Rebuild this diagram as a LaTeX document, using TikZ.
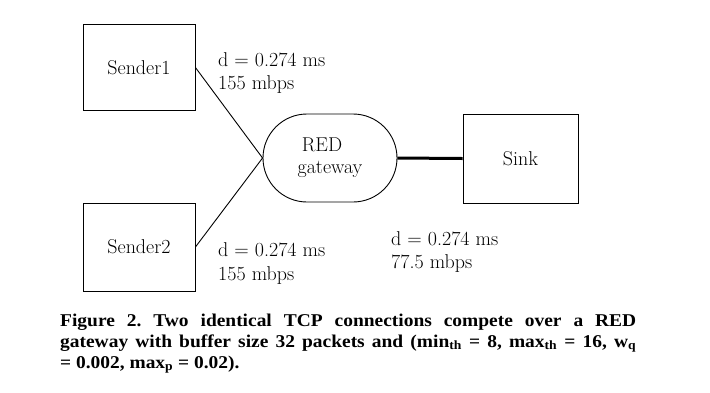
\documentclass[tikz,border=0pt]{standalone}
\usepackage{fontspec}
\newfontfamily\capfont[FakeStretch=1.08]{Liberation Serif}
\newcommand\dgfont{\fontsize{20}{23}\selectfont\addfontfeatures{FakeBold=1.4}}
\begin{document}
\frenchspacing
\begin{tikzpicture}[x=1pt,y=-1pt,
  box/.style={draw,line width=0.9pt,inner sep=0,font=\dgfont},
  lbl/.style={font=\dgfont,anchor=base west,inner sep=0},
  captext/.style={font=\capfont\bfseries\fontsize{18}{21}\selectfont,anchor=base west,inner sep=0},
  link/.style={line width=0.9pt}]
\useasboundingbox[fill=white] (0,0) rectangle (710,392);
\node[box,minimum width=112pt,minimum height=86pt] (s1) at (139,67.5) {Sender1};
\node[box,minimum width=112pt,minimum height=88pt] (s2) at (139,247) {Sender2};
\node[box,minimum width=115pt,minimum height=89pt] (sink) at (520.5,158.5) {Sink};
\node[box,rounded corners=44pt,minimum width=134pt,minimum height=88pt,align=center] (gw) at (330,158) {RED\hspace*{16pt}\\[-1pt]gateway};
\draw[link] (s1.east) -- (gw.west);
\draw[link] (s2.east) -- (gw.west);
\draw[line width=3pt] (gw.east) -- (sink.west);
\node[lbl] (l1a) at (218,66) {d = 0.274 ms};
\node[lbl] (l1b) at (218,89) {155 mbps};
\node[lbl] (l2a) at (218,256) {d = 0.274 ms};
\node[lbl] (l2b) at (218,280) {155 mbps};
\node[lbl] (l3a) at (391,245) {d = 0.274 ms};
\node[lbl] (l3b) at (391,268) {77.5 mbps};
\node[captext] (c1) at (60,326) {\makebox[576pt][s]{Figure 2. Two identical TCP connections compete over a RED}};
\node[captext] (c2) at (60,347) {\makebox[576pt][s]{gateway with buffer size 32 packets and (min\textsubscript{th} = 8, max\textsubscript{th} = 16, w\textsubscript{q}}};
\node[captext] (c3) at (60,368) {= 0.002, max\textsubscript{p} = 0.02).};
\end{tikzpicture}
\end{document}
